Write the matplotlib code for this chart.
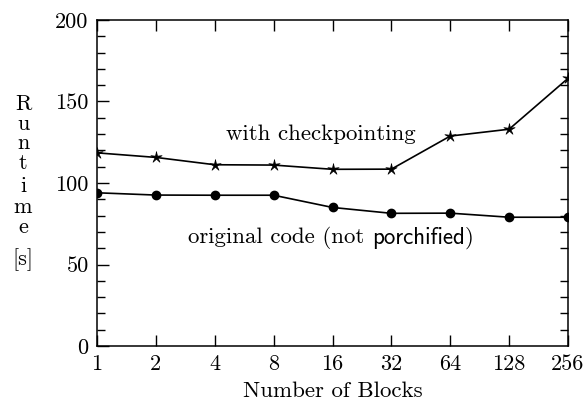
import matplotlib
matplotlib.use("Agg")
import numpy as np
import matplotlib.pyplot as plt
from matplotlib.path import Path
from matplotlib.ticker import MultipleLocator, FixedLocator, NullLocator

blocks = [1, 2, 4, 8, 16, 32, 64, 128, 256]
with_ckpt = [118.5, 115.7, 111.2, 111.0, 108.4, 108.5, 128.8, 133.0, 164.2]
original = [94.0, 92.6, 92.5, 92.5, 85.0, 81.4, 81.5, 79.0, 79.0]
xtick_labels = ["1", "2", "4", "8", "16", "32", "64", "128", "256"]
yticks = [0, 50, 100, 150, 200]

plt.rcParams['font.family'] = ['cmr10', 'DejaVu Serif']
plt.rcParams['mathtext.fontset'] = 'cm'

# thin five-pointed star marker
ang = np.pi / 2 + np.arange(10) * np.pi / 5
rad = np.where(np.arange(10) % 2 == 0, 1.0, 0.28)
verts = np.column_stack([rad * np.cos(ang), rad * np.sin(ang)])
verts = np.vstack([verts, verts[:1]])
star = Path(verts, closed=True)

fig = plt.figure(figsize=(5.87, 4.13), dpi=100)
ax = fig.add_axes([97/587, 67/413, 471/587, 326/413])

ax.plot(blocks, with_ckpt, color='black', lw=1.2, marker=star, ms=8.5,
        markerfacecolor='black', markeredgecolor='black', mew=0.5)
ax.plot(blocks, original, color='black', lw=1.2, marker='o', ms=6)

ax.set_xscale('log', base=2)
ax.set_xlim(1, 256)
ax.set_ylim(0, 200)
ax.xaxis.set_major_locator(FixedLocator(blocks))
ax.set_xticklabels(xtick_labels)
ax.xaxis.set_minor_locator(NullLocator())
ax.set_yticks(yticks)
ax.set_yticklabels([str(v) for v in yticks])
ax.yaxis.set_minor_locator(MultipleLocator(10))

ax.tick_params(axis='x', which='major', direction='in', length=8, width=1,
               top=True, bottom=True, labelsize=16, pad=6)
ax.tick_params(axis='y', which='major', direction='in', length=8.5, width=1,
               left=True, right=False, labelsize=16, pad=6)
ax.tick_params(axis='y', which='minor', direction='in', length=5.5, width=1,
               left=True, right=True)
for s in ax.spines.values():
    s.set_linewidth(1.1)

fs = 16.5
fig.text(321/587, 1 - 134/413, 'with checkpointing', ha='center', va='center', fontsize=fs)
t1 = fig.text(188/587, 1 - 238/413, 'original code (not ', ha='left', va='center', fontsize=fs)
fig.canvas.draw()
bb = t1.get_window_extent()
t2 = fig.text(bb.x1/587, 1 - 238/413, 'porchified', ha='left', va='center', fontsize=fs,
              family=['cmss10', 'DejaVu Sans'])
fig.canvas.draw()
bb2 = t2.get_window_extent()
fig.text(bb2.x1/587, 1 - 238/413, ')', ha='left', va='center', fontsize=fs)

fig.text(333/587, 1 - 391/413, 'Number of Blocks', ha='center', va='center', fontsize=16.5)
letters = ['R', 'u', 'n', 't', 'i', 'm', 'e']
ypos = [104, 124, 143, 163, 186, 207, 227]
for ch, yy in zip(letters, ypos):
    fig.text(23/587, 1 - yy/413, ch, ha='center', va='center', fontsize=16)
fig.text(23/587, 1 - 260/413, '[s]', ha='center', va='center', fontsize=16)

fig.savefig('out.png', dpi=100)
